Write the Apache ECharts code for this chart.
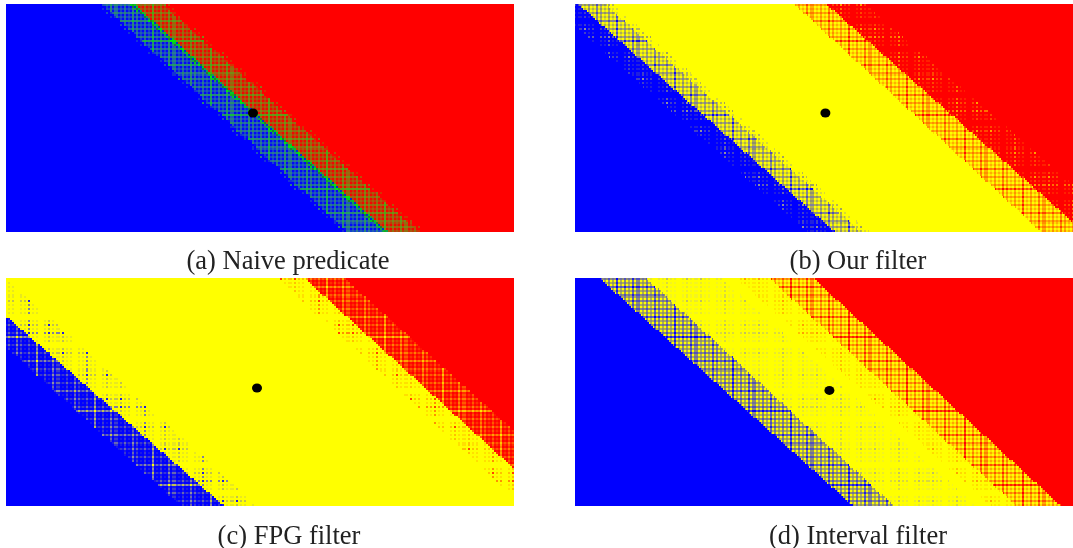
<!DOCTYPE html>
<html><head><meta charset="utf-8">
<style>html,body{margin:0;padding:0;background:#fff}#c{width:1073px;height:548px}</style>
<script src="https://cdn.jsdelivr.net/npm/echarts@6/dist/echarts.min.js"></script>
</head><body><div id="c"></div>
<script>
// ---------- data (cell units: one cell = 2 px) ----------
const captions = ['(a) Naive predicate', '(b) Our filter', '(c) FPG filter', '(d) Interval filter'];
// Where each zone starts on the panel's top row and on its bottom row.
const naiveTop    = [-999, 44.5, 47.5, 61, 63.5, 77.5, 80.5];
const naiveBottom = [-999, 167, 170, 188, 190.5, 206, 209];
const naiveZones  = ['blue', 'aBlueSparse', 'aBlueLattice', 'aGreen', 'aRedLattice', 'aRedSparse', 'red'];

const ourTop    = [-999, -13, 1, 14.5, 18.5, 109, 125, 144.5];
const ourBottom = [-999, 115.5, 129.5, 142.5, 146.5, 232.5, 254, 275.5];
const ourZones  = ['blue', 'bBlueSparse', 'bBlueLattice', 'bYellowFringe', 'yellow', 'bOrangeLattice', 'bRedSparse', 'red'];

const fpgTop    = [-999, -38.5, -22.5, -0.5, 135, 148.5, 168.5];
const fpgBottom = [-999, 87, 108.5, 125, 258, 274, 295];
const fpgZones  = ['blue', 'cBlueLattice', 'cBlueSparse', 'yellow', 'cRedSparse', 'cRedLattice', 'red'];

const intervalTop    = [-999, 11.5, 35, 72.5, 80, 96.5, 118.5];
const intervalBottom = [-999, 138.5, 159, 200, 207.5, 220, 242.5];
const intervalZones  = ['blue', 'dBlueLattice', 'dSparseBlue', 'yellow', 'dSparseRed', 'dRedLattice', 'red'];

const naivePoint = [123.5, 54.5];
const ourPoint = [125.2, 54.5];
const fpgPoint = [125.5, 55];
const intervalPoint = [127.2, 56.2];

// ---------- styles ----------
const fineRows = '1020102010301020102040102010201030102';
const fineCols = '20102010302010201040102010302';
const dotRows  = '1020101010001020103010100010201010101';
const dotCols  = '10201010001010301010001020101';
// [rows, cols, combine, colours]
const palettes = {
  aBlueSparse:  [dotRows, dotCols, 'dot', ['#0000ff','#1430d8','#2050c0','#2a7a90','#2a8a70']],
  aBlueLattice: [fineRows, fineCols, 'sum', ['#0408f8','#1440d0','#2060b0','#2a7a90','#2a8a70','#20a060','#10c040','#10c040','#00d030']],
  aGreen:       [fineRows, fineCols, 'sum', ['#0030d0','#10a050','#00c828','#208030','#00e810','#10b020','#00e810','#20c000','#00e810']],
  aRedLattice:  [fineRows, fineCols, 'sum', ['#f00800','#c03c08','#a85c0c','#907010','#788a14','#609c18','#40b018','#40b018','#30c018']],
  aRedSparse:   [dotRows, dotCols, 'dot', ['#ff0000','#d83000','#b85008','#90701a','#7c8a14']],
  bBlueSparse:  [dotRows, dotCols, 'dot', ['#0000ff','#2020e0','#4040c8','#6060b0','#9090a0']],
  bBlueLattice: [fineRows, fineCols, 'sum', ['#ffff00','#e0e020','#b0b050','#909070','#8080a0','#5050c0','#1010f0','#0000ff','#0000ff']],
  bYellowFringe:[dotRows, dotCols, 'dot', ['#ffff00','#d8d838','#b8b850','#a0a060','#a0a060']],
  bOrangeLattice:[fineRows, fineCols, 'sum', ['#ffff00','#ffe000','#ffb000','#ff9000','#ff7800','#ff4000','#ff1000','#ff0000','#ff0000']],
  bRedSparse:   [dotRows, dotCols, 'dot', ['#ff0000','#ff2000','#ff4800','#ff7000','#ffa000']],
  cBlueLattice: [fineRows, fineCols, 'sum', ['#0000ff','#0000ff','#1818e8','#3838d0','#6868b0','#9090a0','#c0c050','#ffff00','#ffff00']],
  cBlueSparse:  [dotRows, dotCols, 'dot', ['#ffff00','#e8e820','#c0c050','#8080a0','#2020e0']],
  cRedSparse:   [dotRows, dotCols, 'dot', ['#ffff00','#ffe000','#ffc000','#ff9000','#ff4000']],
  cRedLattice:  [fineRows, fineCols, 'sum', ['#ff0000','#ff1000','#ff3000','#ff5800','#ff8000','#ffa000','#ffc800','#ffe800','#ffff00']],
  dBlueLattice: [fineRows, fineCols, 'sum', ['#ffff00','#b0b050','#909070','#7070a0','#5050c0','#2020e0','#0000ff','#0000ff','#0000ff']],
  dSparseBlue:  [dotRows, dotCols, 'dot', ['#ffff00','#f4f420','#e8e830','#d8d840','#c0c060']],
  dSparseRed:   [dotRows, dotCols, 'dot', ['#ffff00','#ffe800','#ffd800','#ffc000','#ffa000']],
  dRedLattice:  [fineRows, fineCols, 'sum', ['#ffff00','#ffe000','#ffa800','#ff8000','#ff5000','#ff2000','#ff0000','#ff0000','#ff0000']]
};
const solids = { blue: '#0000ff', yellow: '#ffff00', red: '#ff0000' };
const CELL = 2;

function makeFill(name) {
  if (solids[name]) return solids[name];
  const [rows, cols, combine, colors] = palettes[name];
  const cv = document.createElement('canvas');
  cv.width = cols.length * CELL;
  cv.height = rows.length * CELL;
  const g = cv.getContext('2d');
  for (let r = 0; r < rows.length; r++) {
    for (let c = 0; c < cols.length; c++) {
      const idx = combine === 'dot' ? +rows[r] * +cols[c] : +rows[r] + +cols[c];
      g.fillStyle = colors[Math.min(colors.length - 1, idx)];
      g.fillRect(c * CELL, r * CELL, CELL, CELL);
    }
  }
  return { image: cv, repeat: 'repeat' };
}

const panels = [
  { top: naiveTop, bottom: naiveBottom, zones: naiveZones, point: naivePoint, left: 6, y: 4, w: 254, cap: [288, 262] },
  { top: ourTop, bottom: ourBottom, zones: ourZones, point: ourPoint, left: 575, y: 4, w: 249, cap: [858, 262] },
  { top: fpgTop, bottom: fpgBottom, zones: fpgZones, point: fpgPoint, left: 6, y: 278, w: 254, cap: [289, 537] },
  { top: intervalTop, bottom: intervalBottom, zones: intervalZones, point: intervalPoint, left: 575, y: 278, w: 249, cap: [858, 537] }
];
const ROWS = 114;

const option = { animation: false, backgroundColor: '#ffffff', grid: [], xAxis: [], yAxis: [], series: [], title: [] };
panels.forEach((p, i) => {
  const fills = p.zones.map(makeFill);
  option.grid.push({ left: p.left, top: p.y, width: p.w * CELL, height: ROWS * CELL, containLabel: false });
  option.xAxis.push({ type: 'value', gridIndex: i, min: 0, max: p.w, show: false });
  option.yAxis.push({ type: 'value', gridIndex: i, min: 0, max: ROWS, inverse: true, show: false });
  option.title.push({
    text: captions[i], left: p.cap[0], top: p.cap[1] - 13, padding: 0, textAlign: 'center',
    textStyle: { fontFamily: '"Liberation Serif", serif', fontSize: 26.5, fontWeight: 'normal', color: '#222222' }
  });
  option.series.push({
    type: 'custom', xAxisIndex: i, yAxisIndex: i, clip: true, silent: true,
    data: p.top.map((t, k) => [t, p.bottom[k], k]),
    renderItem: (params, api) => {
      const t = api.value(0), b = api.value(1), k = api.value(2);
      const pts = [];
      for (let r = 0; r <= ROWS; r++) {
        const x = Math.round(t + (b - t) * r / ROWS);
        if (r > 0) pts.push(api.coord([x, r - 1]), api.coord([x, r]));
      }
      pts.push(api.coord([p.w + 5, ROWS]), api.coord([p.w + 5, 0]));
      return { type: 'polygon', shape: { points: pts }, style: { fill: fills[k], stroke: null } };
    }
  });
  option.series.push({
    type: 'scatter', xAxisIndex: i, yAxisIndex: i, silent: true, z: 5,
    symbol: 'circle', symbolSize: [10, 9], itemStyle: { color: '#000000', opacity: 1 },
    data: [p.point]
  });
});
echarts.init(document.getElementById('c'), null, { renderer: 'canvas' }).setOption(option);
</script></body></html>
